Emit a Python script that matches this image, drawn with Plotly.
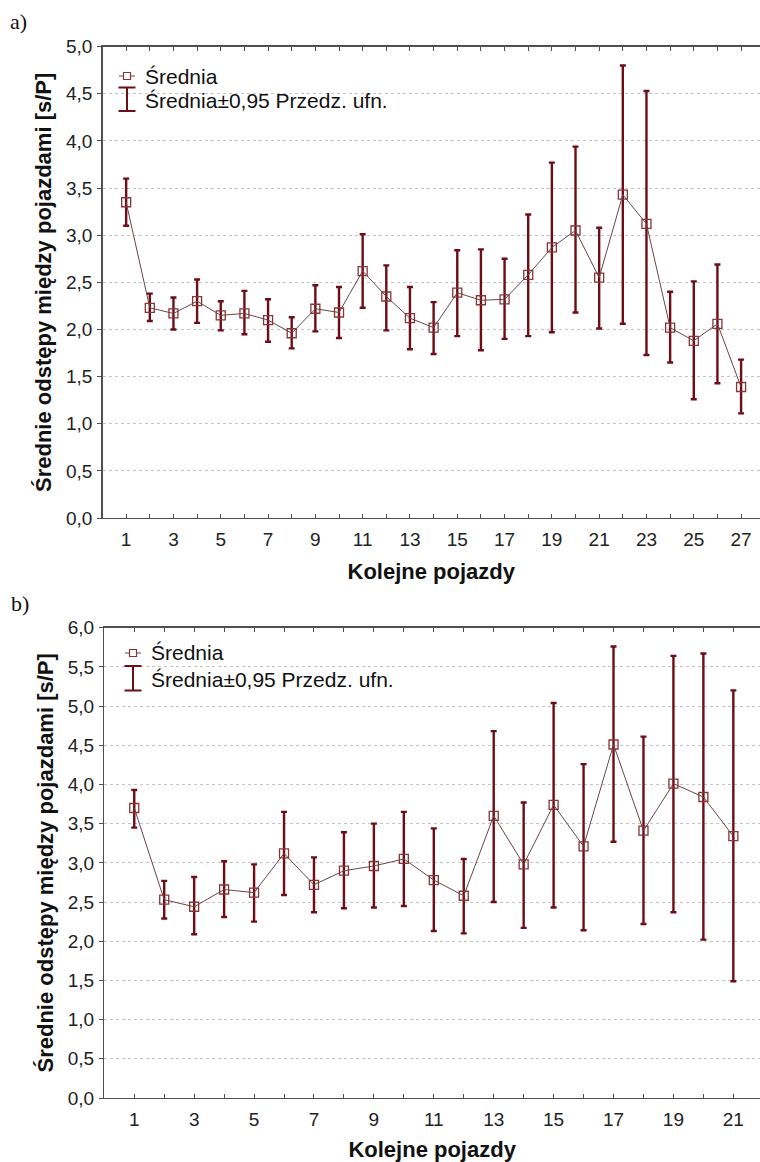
import plotly.graph_objects as go

W, H = 760, 1162

# ---- data: panel a) ----
a_x = list(range(1, 28))
a_mean = [3.35, 2.23, 2.17, 2.30, 2.15, 2.17, 2.10, 1.96, 2.22, 2.18,
          2.62, 2.35, 2.12, 2.02, 2.39, 2.31, 2.32, 2.58, 2.87, 3.05,
          2.55, 3.43, 3.12, 2.02, 1.88, 2.06, 1.39]
a_upper = [3.60, 2.38, 2.34, 2.53, 2.30, 2.41, 2.32, 2.13, 2.47, 2.45,
           3.01, 2.68, 2.45, 2.29, 2.84, 2.85, 2.75, 3.22, 3.77, 3.94,
           3.08, 4.80, 4.53, 2.40, 2.51, 2.69, 1.68]
a_lower = [3.10, 2.09, 2.00, 2.07, 1.99, 1.95, 1.87, 1.80, 1.98, 1.91,
           2.23, 1.99, 1.79, 1.74, 1.93, 1.78, 1.90, 1.93, 1.97, 2.18,
           2.01, 2.06, 1.73, 1.65, 1.26, 1.43, 1.11]

# ---- data: panel b) ----
b_x = list(range(1, 22))
b_mean = [3.70, 2.53, 2.44, 2.66, 2.62, 3.12, 2.72, 2.90, 2.96, 3.05,
          2.78, 2.58, 3.60, 2.98, 3.74, 3.21, 4.51, 3.41, 4.01, 3.84, 3.34]
b_upper = [3.93, 2.77, 2.82, 3.02, 2.98, 3.65, 3.07, 3.39, 3.50, 3.65,
           3.44, 3.05, 4.68, 3.77, 5.04, 4.26, 5.76, 4.61, 5.64, 5.67, 5.20]
b_lower = [3.45, 2.29, 2.09, 2.31, 2.25, 2.59, 2.37, 2.42, 2.43, 2.45,
           2.13, 2.10, 2.50, 2.17, 2.43, 2.14, 3.27, 2.22, 2.37, 2.02, 1.49]

y_title = "Średnie odstępy między pojazdami [s/P]"
x_title = "Kolejne pojazdy"
legend_mean = "Średnia"
legend_ci = "Średnia±0,95 Przedz. ufn."

ERR_COLOR = "#6e0d18"
MARK_COLOR = "#8a3535"
LINE_COLOR = "#6a4646"
AXIS_COLOR = "#505050"
GRID_COLOR = "#c4c4c4"
FONT = "Liberation Sans, Arial, sans-serif"


def px(x, y):
    return x / W, 1 - y / H


fig = go.Figure()


def add_panel(xs, mean, upper, lower, xa, ya):
    plus = [u - m for u, m in zip(upper, mean)]
    minus = [m - l for m, l in zip(mean, lower)]
    fig.add_trace(go.Scatter(
        x=xs, y=mean, mode="lines+markers", xaxis=xa, yaxis=ya,
        line=dict(color=LINE_COLOR, width=1),
        marker=dict(symbol="square-open", size=9, color=MARK_COLOR,
                    line=dict(width=1.3, color=MARK_COLOR)),
        error_y=dict(type="data", symmetric=False, array=plus,
                     arrayminus=minus, color=ERR_COLOR, thickness=2.4,
                     width=3),
        showlegend=False, hoverinfo="skip"))


add_panel(a_x, a_mean, a_upper, a_lower, "x", "y")
add_panel(b_x, b_mean, b_upper, b_lower, "x2", "y2")


def xaxis_cfg(domain, rng, n):
    return dict(
        domain=domain, range=rng, tickmode="array", automargin=False,
        tickvals=list(range(1, n + 1)),
        ticktext=[str(i) if i % 2 == 1 else "" for i in range(1, n + 1)],
        ticks="inside", ticklen=4, tickwidth=1, tickcolor=AXIS_COLOR,
        showline=True, linecolor=AXIS_COLOR, linewidth=1.3,
        mirror="allticks", showgrid=False, zeroline=False,
        tickfont=dict(family=FONT, size=19, color="#222"),
        ticklabelstandoff=4,
        title=dict(text=x_title, font=dict(family=FONT, size=22,
                                           color="#111", weight="bold"),
                   standoff=14),
    )


def yaxis_cfg(domain, top, anchor):
    vals = [i * 0.5 for i in range(int(top * 2) + 1)]
    return dict(
        domain=domain, range=[0, top], anchor=anchor, automargin=False,
        tickmode="array", tickvals=vals, tickformat=".1f",
        ticks="outside", ticklen=4, tickwidth=1, tickcolor=AXIS_COLOR,
        showline=True, linecolor=AXIS_COLOR, linewidth=1.3,
        showgrid=True, gridcolor=GRID_COLOR, griddash="dot", gridwidth=1,
        zeroline=False,
        tickfont=dict(family=FONT, size=19, color="#222"),
        ticklabelstandoff=1,
        title=dict(text=y_title, font=dict(family=FONT, size=22,
                                           color="#111", weight="bold"),
                   standoff=8),
    )


ax_a = xaxis_cfg([102.5 / W, 1.0], [0, 27.8], 27)
ax_a["anchor"] = "y"
ax_b = xaxis_cfg([104.3 / W, 1.0], [0, 21.89], 21)
ax_b["anchor"] = "y2"

fig.update_layout(
    width=W, height=H, margin=dict(l=0, r=0, t=0, b=0, autoexpand=False),
    paper_bgcolor="white", plot_bgcolor="white",
    separators=", ",
    xaxis=ax_a,
    yaxis=yaxis_cfg([1 - 518 / H, 1 - 46.7 / H], 5, "x"),
    xaxis2=ax_b,
    yaxis2=yaxis_cfg([1 - 1098 / H, 1 - 627.7 / H], 6, "x2"),
    showlegend=False,
)

# ---- hand-drawn legends and panel labels ----
shapes = []
annotations = []


def legend(x0, y1, y2, ibeam_top, ibeam_bot):
    # row 1: line with open square
    ax, ay = px(x0 - 8, y1)
    bx, by = px(x0 + 8, y1)
    shapes.append(dict(type="line", xref="paper", yref="paper", x0=ax, y0=ay,
                       x1=bx, y1=by, line=dict(color=LINE_COLOR, width=1)))
    sx0, sy0 = px(x0 - 3.5, y1 - 3.5)
    sx1, sy1 = px(x0 + 3.5, y1 + 3.5)
    shapes.append(dict(type="rect", xref="paper", yref="paper", x0=sx0, y0=sy0,
                       x1=sx1, y1=sy1, fillcolor="white",
                       line=dict(color=MARK_COLOR, width=1.2)))
    # row 2: I-beam
    tx, ty = px(x0, ibeam_top)
    _, btm = px(x0, ibeam_bot)
    shapes.append(dict(type="line", xref="paper", yref="paper", x0=tx, y0=ty,
                       x1=tx, y1=btm, line=dict(color=ERR_COLOR, width=2)))
    for yy in (ibeam_top, ibeam_bot):
        c0, cy = px(x0 - 8.5, yy)
        c1, _ = px(x0 + 8.5, yy)
        shapes.append(dict(type="line", xref="paper", yref="paper", x0=c0,
                           y0=cy, x1=c1, y1=cy,
                           line=dict(color=ERR_COLOR, width=2)))
    for txt, yy in ((legend_mean, y1), (legend_ci, y2)):
        lx, ly = px(x0 + 16, yy)
        annotations.append(dict(text=txt, x=lx, y=ly, xref="paper",
                                yref="paper", xanchor="left",
                                yanchor="middle", showarrow=False,
                                font=dict(family=FONT, size=21,
                                          color="#111")))


legend(127, 76, 100, 87.5, 111)
legend(133, 653, 679, 666, 690.5)

for txt, (x, y) in (("a)", (18, 21)), ("b)", (20, 603))):
    lx, ly = px(x, y)
    annotations.append(dict(text=txt, x=lx, y=ly, xref="paper", yref="paper",
                            xanchor="center", yanchor="middle",
                            showarrow=False,
                            font=dict(family="Liberation Serif, Times New Roman, serif",
                                      size=22, color="#111")))

fig.update_layout(shapes=shapes, annotations=annotations)

fig.write_html(
    "out.html",
    config={"displayModeBar": False, "staticPlot": True},
    post_script="document.body.style.margin='0';document.body.style.overflow='hidden';",
)
